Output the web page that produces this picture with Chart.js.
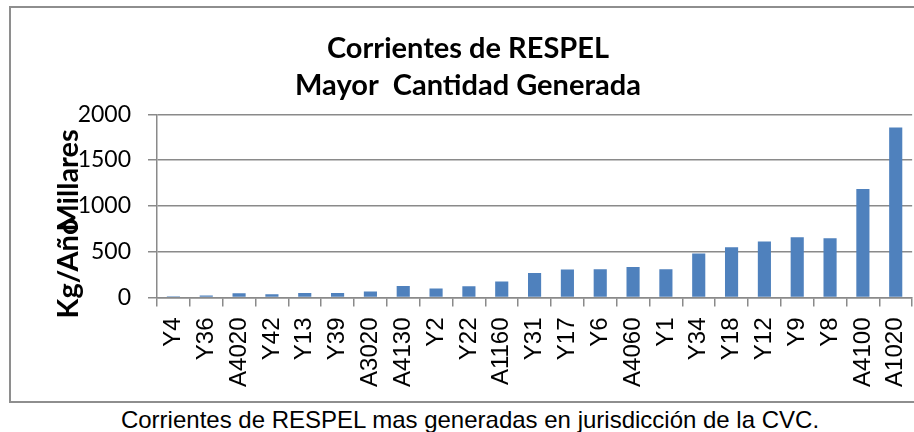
<!DOCTYPE html>
<html>
<head>
<meta charset="utf-8">
<script src="https://cdn.jsdelivr.net/npm/chart.js@4/dist/chart.umd.min.js"></script>
<style>
  html, body { margin: 0; padding: 0; width: 914px; height: 432px; overflow: hidden; background: #fff; }
  #frame { position: absolute; left: 9px; top: 6px; width: 960px; height: 397px; border: 2px solid #8e8e8e; box-sizing: border-box; }
  #wrap { position: absolute; left: 0; top: 0; width: 936px; height: 404px; }
  #caption { position: absolute; left: 0; top: 406px; width: 940px; text-align: center;
             font: 24px "Liberation Sans", Arial, sans-serif; line-height: 27px; color: #000; white-space: nowrap; }
</style>
</head>
<body>
<div id="frame"></div>
<div id="wrap"><canvas id="chart" width="936" height="404"></canvas></div>
<div id="caption"></div>
<script>
// Waste streams (RESPEL) and generated amount, thousands of kg per year
const categories = ['Y4', 'Y36', 'A4020', 'Y42', 'Y13', 'Y39', 'A3020', 'A4130', 'Y2', 'Y22', 'A1160',
                    'Y31', 'Y17', 'Y6', 'A4060', 'Y1', 'Y34', 'Y18', 'Y12', 'Y9', 'Y8', 'A4100', 'A1020'];
const cantidad = [15, 22, 47, 36, 50, 50, 65, 126, 98, 123, 174,
                  268, 305, 309, 334, 309, 480, 549, 611, 658, 647, 1185, 1855];
const yTicks = [0, 500, 1000, 1500, 2000];
const titleLines = ['Corrientes de RESPEL', 'Mayor  Cantidad Generada'];
const axisTitle = ['Kg/Año', 'Millares'];
const captionText = 'Corrientes de RESPEL mas generadas en jurisdicción de la CVC.';

document.getElementById('caption').textContent = captionText;

const GRID = '#8a8a8a';

// Rotated y-axis title: unit label and display-unit label share the same column
const axisTitlePlugin = {
  id: 'axisTitle',
  afterDraw(chart) {
    const { ctx, chartArea } = chart;
    const x = chartArea.left - 79;
    ctx.save();
    ctx.font = 'bold 29px Lato, "Open Sans", sans-serif';
    ctx.fillStyle = '#000';
    ctx.textBaseline = 'alphabetic';

    ctx.save();
    ctx.translate(x, chartArea.bottom + 21);
    ctx.rotate(-Math.PI / 2);
    ctx.textAlign = 'left';
    ctx.fillText(axisTitle[0], 0, 0);
    ctx.restore();

    ctx.save();
    ctx.translate(x, chartArea.top + 15);
    ctx.rotate(-Math.PI / 2);
    ctx.textAlign = 'right';
    ctx.fillText(axisTitle[1], 0, 0);
    ctx.restore();

    ctx.restore();
  }
};

new Chart(document.getElementById('chart'), {
  type: 'bar',
  data: {
    labels: categories,
    datasets: [{
      data: cantidad,
      backgroundColor: '#4F81BD',
      borderWidth: 0,
      barPercentage: 0.4,
      categoryPercentage: 1.0
    }]
  },
  options: {
    responsive: false,
    animation: false,
    devicePixelRatio: 1,
    layout: { padding: { left: 22, right: 22, top: 0, bottom: 0 } },
    plugins: {
      legend: { display: false },
      tooltip: { enabled: false },
      title: {
        display: true,
        text: titleLines,
        color: '#000',
        font: { family: 'Lato, "Open Sans", sans-serif', size: 29, weight: 'bold', lineHeight: 1.27 },
        padding: { top: 30, bottom: 10.6 }
      }
    },
    scales: {
      x: {
        grid: { display: true, drawOnChartArea: false, drawTicks: true, tickLength: 9, color: GRID, lineWidth: 1.5, offset: true },
        border: { display: true, color: GRID, width: 1.5 },
        ticks: {
          autoSkip: false, maxRotation: 90, minRotation: 90, padding: 11,
          color: '#000', font: { family: '"Liberation Sans", Arial, sans-serif', size: 24 }
        },
        afterFit(scale) { scale.height = 404 - 297.5; }
      },
      y: {
        min: yTicks[0],
        max: yTicks[yTicks.length - 1],
        afterBuildTicks(scale) { scale.ticks = yTicks.map(v => ({ value: v })); },
        grid: { color: GRID, lineWidth: 1.5, tickLength: 9 },
        border: { display: true, color: GRID, width: 1.5 },
        ticks: {
          padding: 17, color: '#000', font: { family: 'Lato, "Open Sans", sans-serif', size: 23 },
          callback: (v) => String(v)
        },
        afterFit(scale) { scale.width = 157 - 22; }
      }
    }
  },
  plugins: [axisTitlePlugin]
});
</script>
</body>
</html>
